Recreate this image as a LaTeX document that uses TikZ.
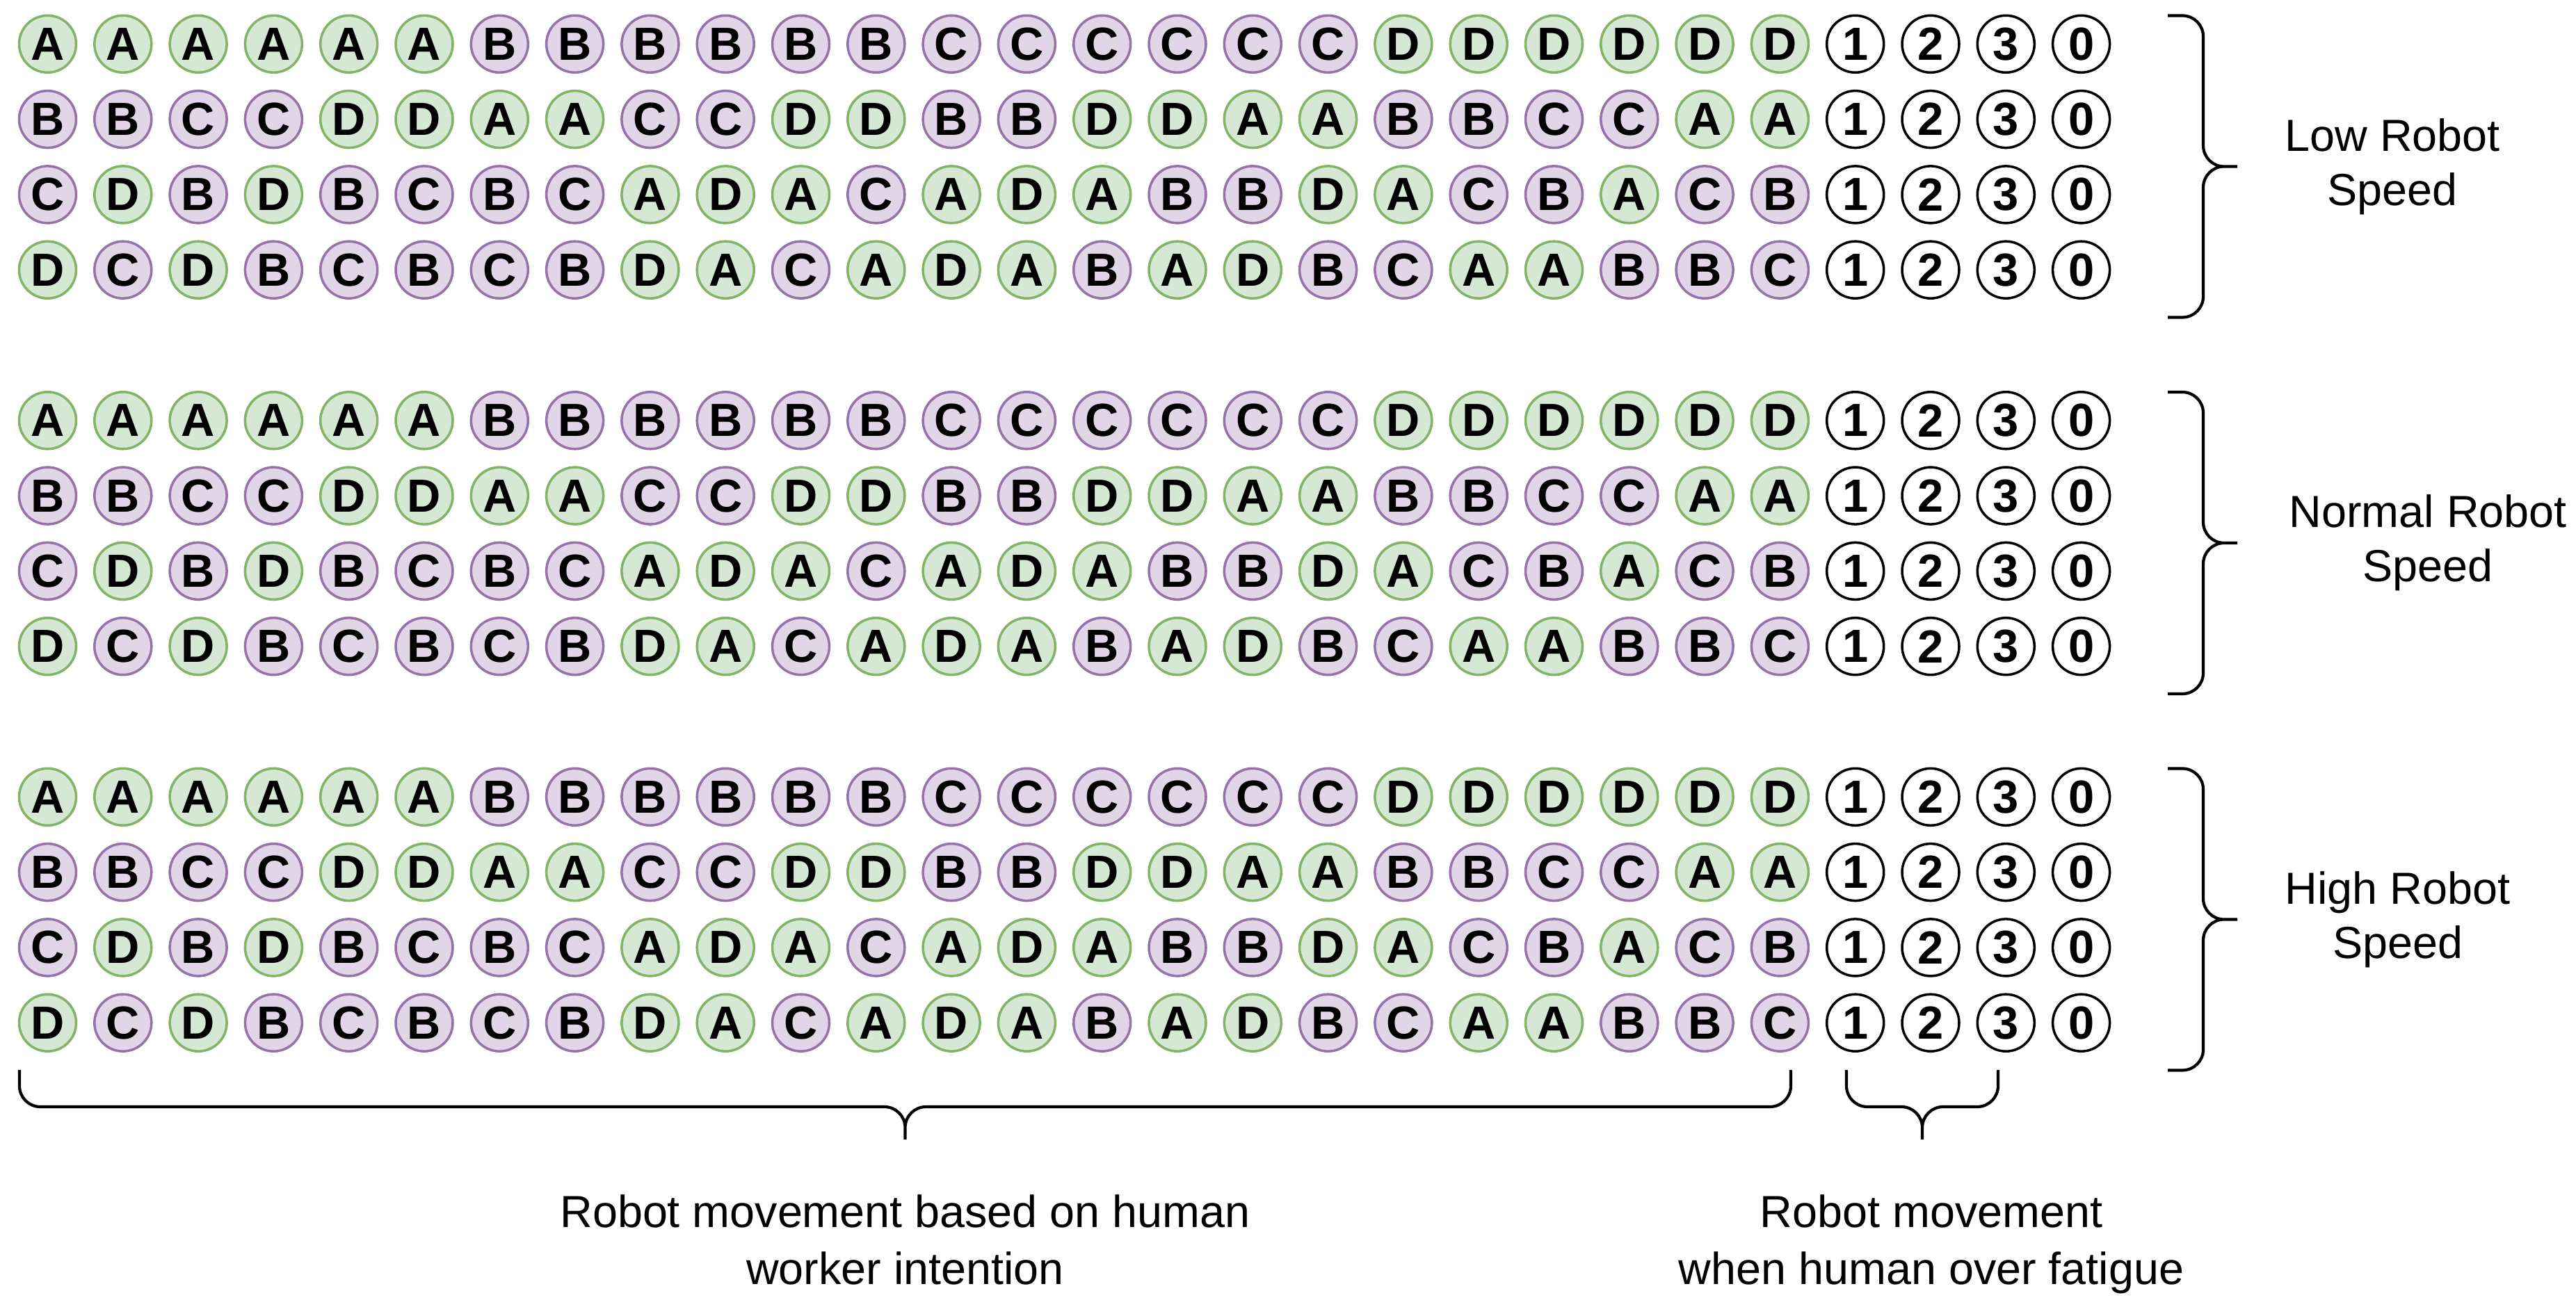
\documentclass[tikz,border=0pt]{standalone}
\usepackage{fontspec}
\setmainfont{Liberation Sans}
\usetikzlibrary{positioning}
\definecolor{greenfill}{HTML}{D5E8D4}
\definecolor{greenline}{HTML}{82B366}
\definecolor{purplefill}{HTML}{E1D5E7}
\definecolor{purpleline}{HTML}{9673A6}

\begin{document}
\begin{tikzpicture}
        \tikzstyle{dot}=[circle,line width=1pt,minimum size=8.2mm,inner sep=0pt,font=\fontsize{19}{19}\selectfont\bfseries]
        \tikzstyle{dotA}=[dot,draw=greenline,fill=greenfill]
        \tikzstyle{dotD}=[dotA]
        \tikzstyle{dotB}=[dot,draw=purpleline,fill=purplefill]
        \tikzstyle{dotC}=[dotB]
        \tikzstyle{level}=[dot,draw=black,fill=white]
        \tikzstyle{brace}=[draw,line width=1.2pt,rounded corners=3mm]
        \tikzstyle{caption}=[align=center,inner sep=0pt,font=\fontsize{18.4}{22.3}\selectfont]
        \useasboundingbox (0,0) rectangle (37.04,-18.80);
        % three blocks of intention rows and fatigue levels
        \foreach \b in {0,1,2}{
          \foreach \row [count=\r from 0] in {
              {A,A,A,A,A,A,B,B,B,B,B,B,C,C,C,C,C,C,D,D,D,D,D,D},
              {B,B,C,C,D,D,A,A,C,C,D,D,B,B,D,D,A,A,B,B,C,C,A,A},
              {C,D,B,D,B,C,B,C,A,D,A,C,A,D,A,B,B,D,A,C,B,A,C,B},
              {D,C,D,B,C,B,C,B,D,A,C,A,D,A,B,A,D,B,C,A,A,B,B,C}}{
            \foreach \l [count=\c from 0] in \row
              \node[dot\l] (d\b-\r-\c) at ({0.685+1.083*\c},{-0.633-1.083*(5*\b+\r)}) {\l};
            \foreach \n [count=\c from 24] in {1,2,3,0}
              \node[level] (d\b-\r-\c) at ({0.685+1.083*\c},{-0.633-1.083*(5*\b+\r)}) {\n};
          }
          \coordinate (bt\b) at (31.17,{-0.225-5.415*\b});
          \coordinate (bb\b) at (31.17,{-4.565-5.415*\b});
          \coordinate (tip\b) at (32.17,{-2.395-5.415*\b});
          \draw[brace] (bt\b) -- ++(0.51,0) |- (tip\b) (bb\b) -- ++(0.51,0) |- (tip\b);
        }
        \node[caption,right=0.68cm of tip0] (low) {Low Robot\\Speed};
        \node[caption,right=0.74cm of tip1] (normal) {Normal Robot\\Speed};
        \node[caption,right=0.68cm of tip2] (high) {High Robot\\Speed};
        % bottom braces
        \coordinate (il) at (0.28,-15.39);
        \coordinate (ir) at (25.75,-15.39);
        \coordinate (it) at (13.015,-16.39);
        \coordinate (fl) at (26.55,-15.39);
        \coordinate (fr) at (28.73,-15.39);
        \coordinate (ft) at (27.64,-16.39);
        \draw[brace] (il) -- ++(0,-0.53) -| (it) (ir) -- ++(0,-0.53) -| (it);
        \draw[brace] (fl) -- ++(0,-0.53) -| (ft) (fr) -- ++(0,-0.53) -| (ft);
        \node[caption,font=\fontsize{18.4}{23.3}\selectfont,below=0.79cm of it] (intent) {Robot movement based on human\\worker intention};
        \node[caption,font=\fontsize{18.4}{23.3}\selectfont,below=0.79cm of ft,xshift=0.13cm] (fatigue) {Robot movement\\when human over fatigue};
\end{tikzpicture}
\end{document}
